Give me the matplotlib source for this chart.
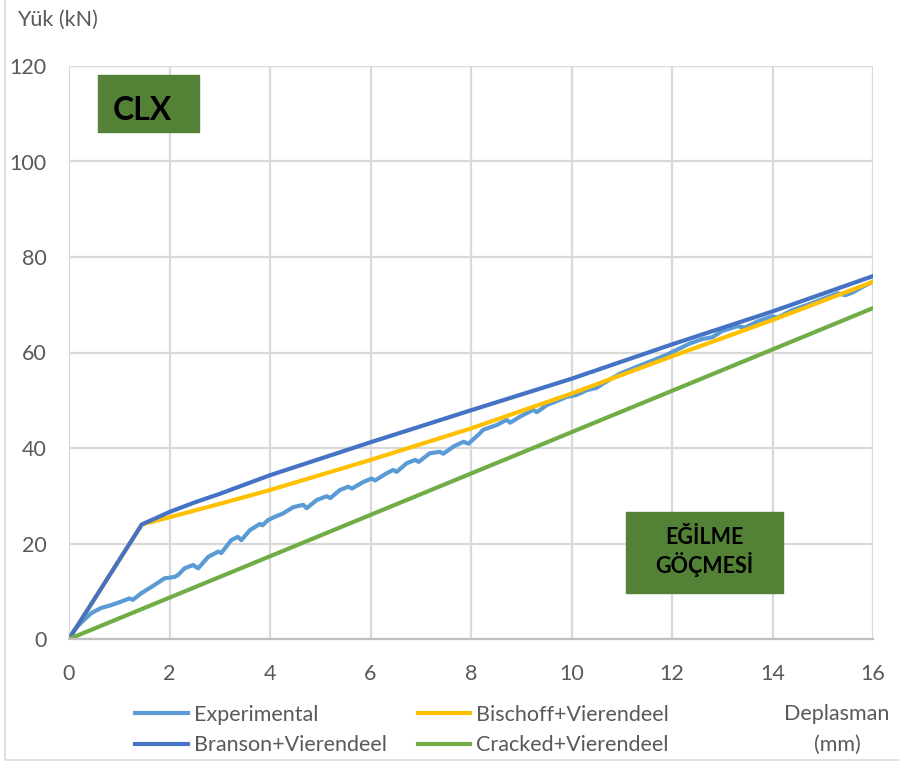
import numpy as np
import matplotlib.pyplot as plt
from matplotlib.patches import Rectangle

# deney verisi (yük-deplasman)
exp_x = [0, 0.1, 0.24, 0.44, 0.64, 0.84, 1.03, 1.2, 1.27, 1.44, 1.7, 1.9, 2.1, 2.17,
         2.3, 2.47, 2.57, 2.77, 2.97, 3.03, 3.23, 3.36, 3.43, 3.6, 3.8, 3.85, 3.96,
         4.1, 4.26, 4.46, 4.66, 4.73, 4.93, 5.13, 5.2, 5.39, 5.56, 5.63, 5.86, 6.02,
         6.09, 6.32, 6.45, 6.52, 6.72, 6.89, 6.96, 7.18, 7.38, 7.45, 7.65, 7.85, 7.95,
         8.18, 8.24, 8.51, 8.71, 8.78, 8.98, 9.24, 9.31, 9.51, 9.77, 9.9, 10.1, 10.3,
         10.5, 10.63, 10.97, 11.3, 11.56, 11.89, 12.22, 12.36, 12.6, 12.8, 13.0, 13.3,
         13.45, 13.7, 14.0, 14.1, 14.4, 14.7, 15.0, 15.3, 15.45, 15.6, 15.8, 16.0]
exp_y = [0, 1.8, 3.4, 5.4, 6.5, 7.1, 7.8, 8.5, 8.2, 9.6, 11.3, 12.7, 13.0, 13.4,
         14.8, 15.5, 14.8, 17.2, 18.3, 18.0, 20.7, 21.4, 20.7, 22.8, 24.1, 23.8, 24.9,
         25.6, 26.3, 27.6, 28.1, 27.4, 29.1, 29.9, 29.5, 31.2, 31.9, 31.5, 32.9, 33.6,
         33.2, 34.7, 35.4, 35.0, 36.8, 37.5, 37.1, 38.9, 39.2, 38.8, 40.3, 41.3, 40.9,
         43.1, 43.8, 44.8, 45.9, 45.3, 46.6, 48.0, 47.5, 49.0, 50.1, 50.7, 51.1, 52.1,
         52.6, 53.5, 55.6, 57.0, 58.1, 59.5, 61.2, 61.9, 62.8, 63.2, 64.5, 65.5,
         65.2, 66.5, 67.6, 67.3, 68.9, 70.0, 71.2, 72.4, 72.0, 72.6, 73.8, 74.8]

# Branson + Vierendeel
bra_x = [0, 1.45, 2, 2.5, 3, 4, 6, 8, 10, 12, 14, 16]
bra_y = [0, 24.0, 26.6, 28.6, 30.4, 34.3, 41.2, 47.9, 54.5, 61.7, 68.6, 76.0]

# Bischoff + Vierendeel
bis_x = [0, 1.45, 2, 3, 4, 6, 8, 10, 12, 14, 16]
bis_y = [0, 24.0, 25.5, 28.3, 31.2, 37.5, 44.1, 51.4, 59.2, 66.8, 74.8]

# Cracked + Vierendeel
cr_x = [0, 16]
cr_y = [0, 69.3]

xticks = [0, 2, 4, 6, 8, 10, 12, 14, 16]
yticks = [0, 20, 40, 60, 80, 100, 120]

plt.rcParams['font.family'] = ['Lato', 'DejaVu Sans']
grey = '#595959'
fs = 15.5

fig = plt.figure(figsize=(8.99, 7.65), dpi=100)
ax = fig.add_axes([69/899, 126/765, 804/899, 573/765])

# çerçeve
fig.patches.append(Rectangle((5/899, 5/765), 1.0, 1.0, transform=fig.transFigure,
                             fill=False, edgecolor='#d9d9d9', lw=1.2))

l_exp, = ax.plot(exp_x, exp_y, color='#5B9BD5', lw=3.0, label='Experimental')
l_bis, = ax.plot(bis_x, bis_y, color='#FFC000', lw=3.0, label='Bischoff+Vierendeel')
l_bra, = ax.plot(bra_x, bra_y, color='#4472C4', lw=3.0, label='Branson+Vierendeel')
l_cr, = ax.plot(cr_x, cr_y, color='#70AD47', lw=3.0, label='Cracked+Vierendeel')

ax.set_xlim(0, 16)
ax.set_ylim(0, 120)
ax.set_xticks(xticks)
ax.set_yticks(yticks)
ax.grid(True, color='#d9d9d9', lw=1.6)
ax.set_axisbelow(True)
for s in ['left', 'top', 'right']:
    ax.spines[s].set_visible(False)
ax.spines['bottom'].set_color('#bfbfbf')
ax.spines['bottom'].set_linewidth(1.6)
ax.tick_params(length=0, labelsize=fs, labelcolor=grey)
ax.tick_params(axis='y', pad=16)
ax.tick_params(axis='x', pad=18)

fig.text(17/899, 1 - 20/765, 'Yük (kN)', fontsize=fs, color=grey, va='center', ha='left')
fig.text(837/899, 1 - 714/765, 'Deplasman', fontsize=fs, color=grey, va='center', ha='center')
fig.text(837/899, 1 - 745/765, '(mm)', fontsize=fs, color=grey, va='center', ha='center')

# etiket kutuları
ax.add_patch(Rectangle((0.58, 106.2), 2.01, 11.9, color='#538135', zorder=5))
ax.text(1.47, 110.7, 'CLX', fontsize=23, fontweight='bold', color='black',
        ha='center', va='center', zorder=6)
ax.add_patch(Rectangle((11.08, 9.7), 3.12, 16.8, color='#538135', zorder=5))
ax.text(12.64, 21.2, 'EĞİLME', fontsize=15.5, fontweight='bold', color='black',
        ha='center', va='center', zorder=6)
ax.text(12.64, 15.6, 'GÖÇMESİ', fontsize=15.5, fontweight='bold', color='black',
        ha='center', va='center', zorder=6)

leg = fig.legend(handles=[l_exp, l_bra, l_bis, l_cr], ncol=2, frameon=False,
                 loc='center left', bbox_to_anchor=(116/899, 1 - 730/765),
                 fontsize=fs, handlelength=2.45, handletextpad=0.25,
                 columnspacing=1.45, labelspacing=0.5)
for t in leg.get_texts():
    t.set_color(grey)

fig.savefig('out.png', dpi=100)
